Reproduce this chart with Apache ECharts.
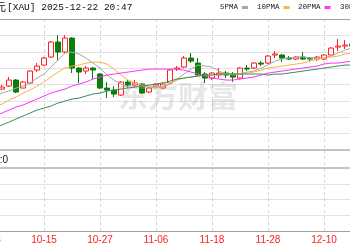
<!DOCTYPE html>
<html><head><meta charset="utf-8">
<script src="https://cdn.jsdelivr.net/npm/echarts@6/dist/echarts.min.js"></script>
<style>html,body{margin:0;padding:0;background:#fff}#c{width:350px;height:250px}</style>
</head><body><div id="c"></div>
<script>
const dates = ['10-03','10-06','10-07','10-08','10-09','10-10','10-13','10-14','10-15','10-16','10-17','10-20','10-21','10-22','10-23','10-24','10-27','10-28','10-29','10-30','10-31','11-03','11-04','11-05','11-06','11-07','11-10','11-11','11-12','11-13','11-14','11-17','11-18','11-19','11-20','11-21','11-24','11-25','11-26','11-27','11-28','12-01','12-02','12-03','12-04','12-05','12-08','12-09','12-10','12-11','12-12','12-15','12-16','12-17','12-18','12-19','12-22'];
// [open, close, low, high]
const ohlc = ['-','-',
[4071,4081,4066,4091],[4086,4116,4081,4131],[4116,4056,4051,4121],[4076,4106,4076,4111],[4101,4161,4096,4166],
[4166,4186,4156,4201],[4191,4226,4186,4231],[4231,4306,4226,4311],[4306,4256,4211,4341],[4256,4326,4251,4341],
[4326,4176,4151,4331],[4176,4156,4101,4181],[4161,4176,4146,4186],[4176,4166,4121,4181],[4146,4076,4071,4151],
[4076,4066,4026,4106],[4066,4046,4031,4086],[4041,4106,4036,4111],[4106,4091,4076,4116],[4091,4101,4081,4116],
[4096,4051,4046,4101],[4056,4076,4051,4081],[4086,4096,4076,4101],[4076,4096,4071,4106],[4101,4166,4096,4171],
[4171,4176,4161,4186],[4181,4226,4176,4236],[4226,4211,4201,4251],[4201,4141,4136,4226],[4146,4126,4101,4156],
[4126,4151,4116,4156],[4141,4151,4126,4176],[4151,4141,4126,4161],[4146,4131,4106,4156],[4126,4176,4121,4181],
[4176,4171,4161,4191],[4176,4201,4171,4206],[4201,4196,4186,4211],[4201,4236,4196,4241],[4241,4246,4226,4261],
[4241,4226,4206,4246],[4226,4221,4216,4236],[4221,4231,4216,4236],[4231,4221,4216,4256],[4226,4221,4211,4231],
[4221,4231,4211,4236],[4221,4241,4216,4246],[4241,4276,4241,4281],[4281,4286,4261,4321],[4286,4291,4271,4316],
[4296,4286,4276,4306]];
const ma5 = ['-',4041,4051,4061,4076,4086,4101,4126,4146,4181,4216,4251,4256,4246,4226,4201,4176,4141,4116,4096,4081,4081,4086,4081,4076,4081,4096,4121,4146,4171,4191,4186,4181,4161,4146,4141,4146,4156,4161,4176,4191,4211,4221,4226,4231,4231,4226,4226,4226,4236,4251,4266,4276];
const ma10 = ['-',3986,3996,4016,4031,4051,4066,4086,4106,4131,4156,4176,4186,4191,4201,4206,4206,4196,4171,4141,4116,4101,4091,4086,4081,4086,4101,4116,4126,4131,4136,4141,4141,4141,4146,4146,4146,4151,4156,4166,4176,4181,4186,4191,4196,4201,4211,4221,4226,4231,4236,4246,4251];
const ma20 = ['-',3941,3951,3966,3981,3991,4006,4021,4036,4051,4061,4071,4086,4096,4106,4121,4131,4141,4146,4151,4156,4161,4166,4171,4171,4171,4171,4171,4166,4156,4146,4136,4126,4121,4116,4116,4121,4126,4131,4141,4151,4156,4161,4166,4171,4176,4181,4186,4196,4201,4201,4206,4211];
const ma30 = ['-',3881,3891,3906,3921,3936,3951,3966,3976,3986,4001,4011,4021,4026,4036,4046,4051,4061,4066,4071,4076,4081,4086,4091,4096,4101,4111,4121,4126,4131,4136,4141,4141,4146,4146,4146,4146,4146,4146,4146,4141,4146,4146,4151,4156,4161,4166,4171,4176,4181,4186,4191,4191];
const maNames = ['5PMA','10PMA','20PMA','30PMA'];
const maColors = ['#a8a8a8','#f7b24a','#ff33ff','#3a8f5a'];

const chart = echarts.init(document.getElementById('c'), null, {renderer:'canvas'});
const L = -15.5, R = -33.5;
const dash = {show:true, interval:7, alignWithLabel:true, lineStyle:{color:'#d4d4d4', type:[3,3], width:1}};
const noAx = {show:false};
const gridBase = {left:L, right:R, outerBoundsMode:'none', containLabel:false};

// legend drawn as text + colour swatch
const legendX = [220, 257, 298, 340];
const legendG = [];
maNames.forEach((n, i) => {
  legendG.push({type:'text', x:legendX[i], y:7, style:{text:n, align:'left', verticalAlign:'middle', font:'7.5px "Liberation Mono", monospace', fill:'#222'}});
  legendG.push({type:'rect', x:legendX[i] + n.length*4.5 + 4, y:6, shape:{width:6, height:3}, style:{fill:maColors[i]}});
});

chart.setOption({
  animation:false,
  backgroundColor:'#fff',
  grid:[
    Object.assign({top:19, height:131}, gridBase),
    Object.assign({top:168, height:63}, gridBase),
    Object.assign({top:150, height:18}, gridBase)
  ],
  xAxis:[
    {gridIndex:0, type:'category', data:dates, boundaryGap:true, axisLine:{show:true, lineStyle:{color:'#c4c4c4', width:2}}, axisTick:noAx, axisLabel:noAx, splitLine:dash},
    {gridIndex:1, type:'category', data:dates, boundaryGap:true, axisLine:{show:true, lineStyle:{color:'#a0a0a0', width:1}}, axisTick:noAx,
      axisLabel:{show:true, interval:7, color:'#ff2020', fontSize:10, fontFamily:'"Liberation Sans", Arial, sans-serif', margin:4, hideOverlap:false}, splitLine:dash},
    {gridIndex:2, type:'category', data:dates, boundaryGap:true, axisLine:{show:true, lineStyle:{color:'#c4c4c4', width:2}}, axisTick:noAx, axisLabel:noAx, splitLine:dash},
    {gridIndex:0, type:'category', data:dates, position:'top', boundaryGap:true, axisLine:{show:true, lineStyle:{color:'#a0a0a0', width:1}}, axisTick:noAx, axisLabel:noAx, splitLine:noAx}
  ],
  yAxis:[
    {gridIndex:0, type:'value', min:3766.25, max:4421.25, interval:81.875, axisLine:noAx, axisTick:noAx, axisLabel:noAx, splitLine:{show:true, lineStyle:{color:'#e2e2e2'}}},
    {gridIndex:1, type:'value', min:0, max:4, interval:1, axisLine:noAx, axisTick:noAx, axisLabel:noAx, splitLine:{show:true, lineStyle:{color:'#e2e2e2'}}},
    {gridIndex:2, type:'value', min:0, max:1, axisLine:noAx, axisTick:noAx, axisLabel:noAx, splitLine:noAx}
  ],
  graphic:[
    {type:'text', x:6, y:7, style:{text:'黄金美元', align:'right', verticalAlign:'middle', font:'11px "Noto Sans CJK SC"', fill:'#111'}},
    {type:'text', x:7, y:7, style:{text:'[XAU] 2025-12-22 20:47', align:'left', verticalAlign:'middle', font:'9.5px "Liberation Mono", monospace', fill:'#111'}},
    {type:'text', x:8, y:160, style:{text:'成交量:0', align:'right', verticalAlign:'middle', font:'10px "Liberation Sans", "Noto Sans CJK SC", sans-serif', fill:'#111'}},
    {type:'text', x:178, y:96, z:100, style:{text:'东方财富', align:'center', verticalAlign:'middle', font:'bold 30px "Noto Sans CJK SC"', fill:'rgba(170,170,170,0.28)'}}
  ].concat(legendG),
  series:[
    {type:'candlestick', name:'K', xAxisIndex:0, yAxisIndex:0, data:ohlc, barWidth:5,
      itemStyle:{color:'#ffffff', color0:'#0a7d0a', borderColor:'#ff2020', borderColor0:'#0a7d0a', borderWidth:1}},
    {type:'line', name:maNames[0], xAxisIndex:0, yAxisIndex:0, data:ma5, symbol:'none', lineStyle:{width:1, color:maColors[0]}, itemStyle:{color:maColors[0]}},
    {type:'line', name:maNames[1], xAxisIndex:0, yAxisIndex:0, data:ma10, symbol:'none', lineStyle:{width:1, color:maColors[1]}, itemStyle:{color:maColors[1]}},
    {type:'line', name:maNames[2], xAxisIndex:0, yAxisIndex:0, data:ma20, symbol:'none', lineStyle:{width:1, color:maColors[2]}, itemStyle:{color:maColors[2]}},
    {type:'line', name:maNames[3], xAxisIndex:0, yAxisIndex:0, data:ma30, symbol:'none', lineStyle:{width:1, color:maColors[3]}, itemStyle:{color:maColors[3]}}
  ]
});
</script></body></html>
